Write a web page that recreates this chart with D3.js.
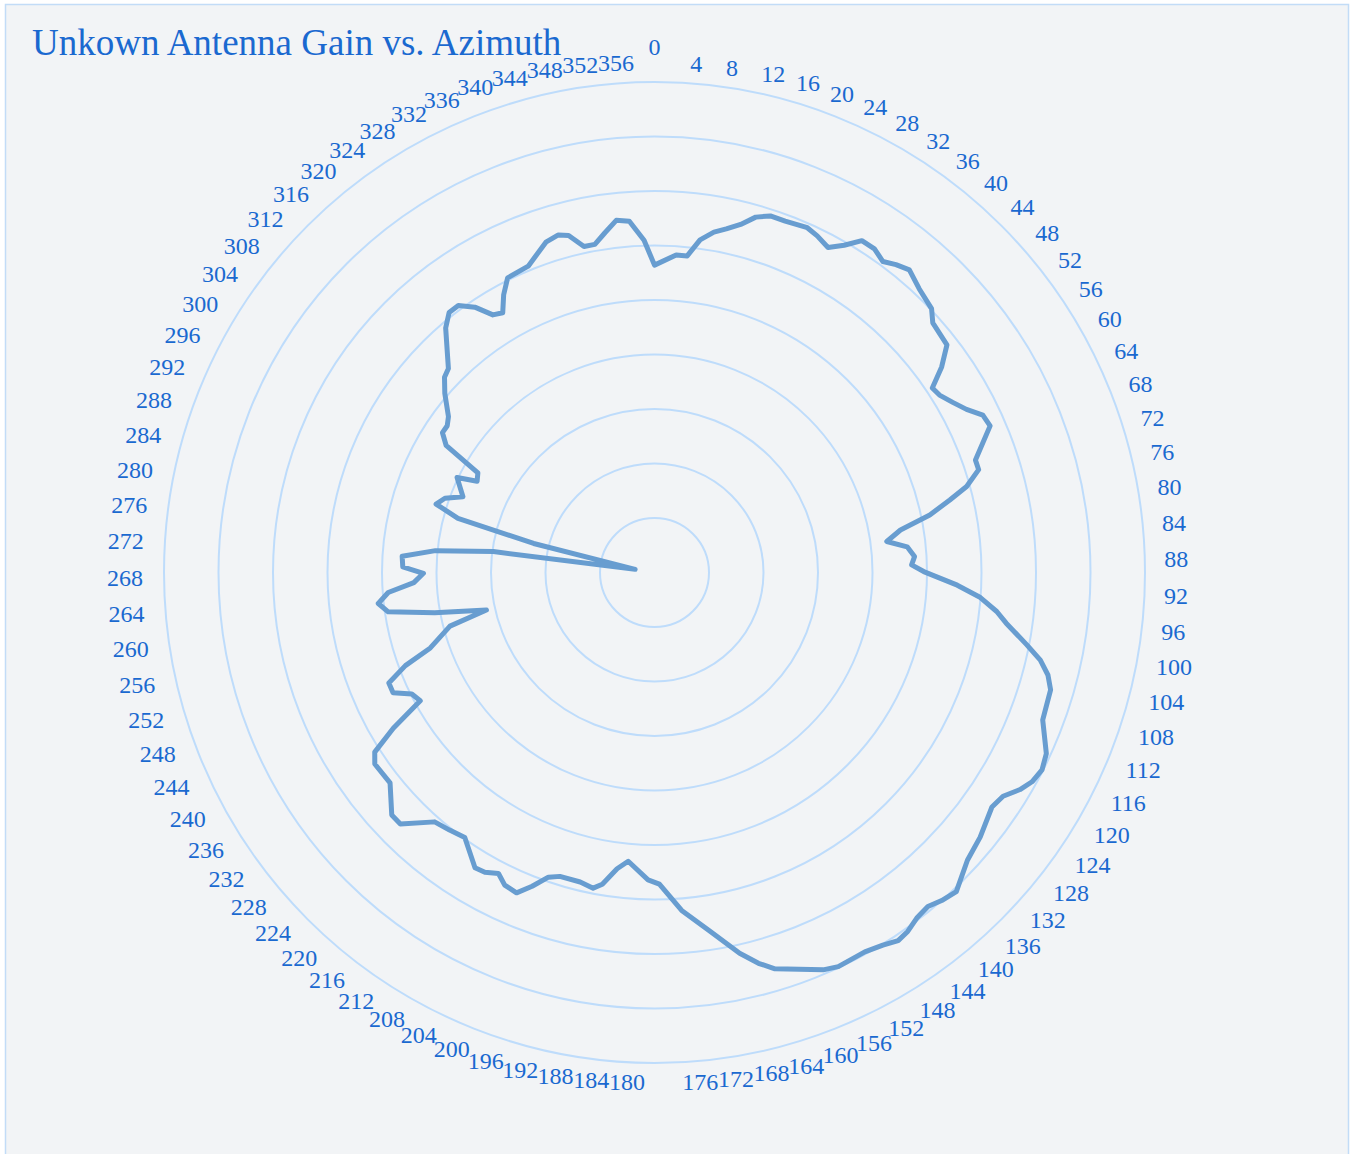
<!DOCTYPE html>
<html>
<head>
<meta charset="utf-8">
<script src="https://cdn.jsdelivr.net/npm/d3@7"></script>
<style>
  body { margin: 0; background: #fff; }
</style>
</head>
<body>
<div id="chart"></div>
<script>
// azimuth of each measured point (degrees, clockwise from north)
const azimuth = [0,3.9,5.9,7.8,9.9,11.8,13.9,15.9,18.0,20.4,
  23.9,25.8,28.1,30.1,32.0,34.2,36.3,38.1,40.1,43.0,
  46.4,48.1,52.1,54.4,56.4,58.1,60.3,62.4,64.4,66.4,
  70.7,72.4,74.6,76.2,78.2,80.2,82.4,84.2,86.5,88.3,
  89.8,92.4,94.3,96.5,98.2,101.0,102.8,104.6,106.5,110.8,
  114.8,117.0,119.0,120.7,122.7,124.8,129.1,132.6,136.6,138.8,
  140.7,142.8,144.8,146.5,148.5,151.0,155.0,157.0,163.1,165.1,
  167.4,171.2,175.4,179.1,181.2,185.2,187.2,189.5,191.0,193.5,
  197.3,199.2,201.3,203.3,205.6,207.4,209.5,211.3,215.6,218.5,
  221.4,225.3,227.3,231.5,235.6,237.3,239.2,241.3,243.4,245.3,
  247.4,249.5,251.4,255.3,257.4,259.6,261.6,263.6,265.7,267.6,
  269.8,271.3,273.7,275.7,277.4,279.3,283.5,285.4,287.4,289.5,
  291.6,295.7,297.2,299.4,301.4,303.4,305.3,307.1,310.5,312.9,
  314.7,319.5,321.7,323.7,325.9,327.9,329.7,331.5,333.5,337.6,
  341.8,344.1,345.7,347.8,349.7,351.7,353.8,355.9,358.2];

// gain at each azimuth (radial units)
const gain = [28.2,29.2,29.2,30.8,31.7,32.2,32.9,33.9,34.4,34.4,
  34.6,34.3,33.8,34.7,35.9,35.9,35.4,35.9,36.3,35.6,
  35.1,34.3,34.0,32.4,30.6,30.8,31.5,32.3,33.4,33.6,
  31.2,31.2,29.7,27.9,25.8,22.9,21.5,23.3,23.9,23.6,
  24.7,27.8,29.9,31.6,32.6,34.8,36.3,37.3,37.9,38.1,
  39.6,39.9,39.6,39.0,38.0,37.7,38.5,39.0,40.3,40.0,
  39.6,39.8,40.3,40.5,40.1,39.8,39.9,39.6,38.0,37.1,
  35.8,33.3,31.1,28.6,28.2,26.6,27.4,29.0,29.5,29.2,
  29.2,29.6,30.9,32.0,31.8,31.1,31.6,31.7,29.9,30.2,
  30.5,32.8,32.8,31.0,31.1,30.5,27.9,24.5,24.9,26.4,
  26.4,24.4,21.7,19.4,15.8,20.5,24.7,25.5,24.5,22.1,
  21.2,23.1,23.2,20.2,14.9,1.8,11.4,18.7,21.0,20.4,
  18.9,20.1,18.3,18.6,22.4,23.3,23.3,23.7,25.3,26.3,
  26.6,29.5,30.4,30.4,29.4,27.9,27.6,29.0,30.2,30.4,
  31.9,32.2,31.9,30.6,30.6,31.5,32.5,32.3,30.5];

const gridLevels = [5, 10, 15, 20, 25, 30, 35, 40, 45];
const tickAngles = d3.range(0, 360, 4);
const title = "Unkown Antenna Gain vs. Azimuth";

const width = 1352, height = 1154;
const cx = 654.5, cy = 572.5, rMax = 490.5;
const textColor = "#1a69d0";
const serif = "'Liberation Serif', 'Times New Roman', serif";

const svg = d3.select("#chart").append("svg")
  .attr("width", width)
  .attr("height", height)
  .style("display", "block");

svg.append("rect")
  .attr("x", 5.5).attr("y", 4.5)
  .attr("width", 1343).attr("height", 1200)
  .attr("fill", "#f2f4f6")
  .attr("stroke", "#c2dcf7")
  .attr("stroke-width", 1.5);

svg.append("text")
  .attr("x", 32).attr("y", 55)
  .attr("font-family", serif)
  .attr("font-size", 37)
  .attr("fill", textColor)
  .text(title);

const r = d3.scaleLinear().domain([0, 45]).range([0, rMax]);

const g = svg.append("g").attr("transform", `translate(${cx},${cy})`);

g.append("g")
  .selectAll("circle")
  .data(gridLevels)
  .join("circle")
  .attr("r", d => r(d))
  .attr("fill", "none")
  .attr("stroke", "#bedcfb")
  .attr("stroke-width", 2);

// angular tick labels
const labelR = rMax + 27;
function labelPos(a) {
  const t = a * Math.PI / 180, s = Math.sin(t), c = Math.cos(t);
  let x, anchor;
  if (a === 0) { x = 0; anchor = "middle"; }
  else if (a < 180) { x = (labelR - 3.5) * s + 4 * c - 4; anchor = "start"; }
  else { x = (labelR - 3) * s + 12.5 * c + 3; anchor = "end"; }
  const d = Math.min(a, 360 - a);
  const lift = a === 0 ? 0 : 16 * Math.pow(Math.max(0, 1 - d / 78), 1.3);
  const y = -labelR * c + 4 * Math.abs(s) + 9 * s + lift;
  return { x, y, anchor };
}

g.append("g")
  .attr("font-family", serif)
  .attr("font-size", 24)
  .attr("fill", textColor)
  .selectAll("text")
  .data(tickAngles)
  .join("text")
  .each(function (a) {
    const p = labelPos(a);
    d3.select(this).attr("x", p.x).attr("y", p.y).attr("text-anchor", p.anchor);
  })
  .text(d => d);

const points = azimuth.map((a, i) => ({ a, v: gain[i] }));

const line = d3.lineRadial()
  .angle(d => d.a * Math.PI / 180)
  .radius(d => r(d.v))
  .curve(d3.curveLinearClosed);

g.append("path")
  .datum(points)
  .attr("d", line)
  .attr("fill", "none")
  .attr("stroke", "#689dd0")
  .attr("stroke-width", 5)
  .attr("stroke-linejoin", "round")
  .attr("stroke-linecap", "round");
</script>
</body>
</html>
